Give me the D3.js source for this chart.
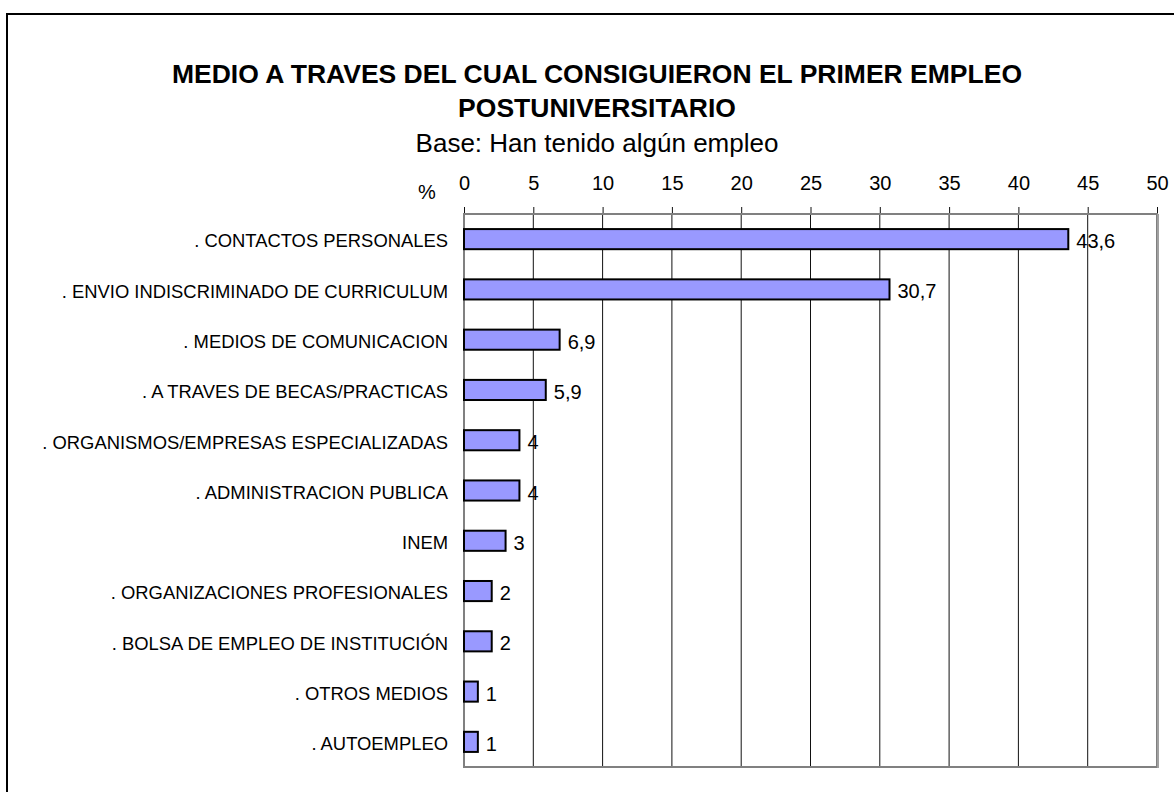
<!DOCTYPE html>
<html>
<head>
<meta charset="utf-8">
<script src="https://cdn.jsdelivr.net/npm/d3@7"></script>
<style>
  body { margin: 0; background: #fff; }
  svg { display: block; font-family: "Liberation Sans", Arial, sans-serif; }
</style>
</head>
<body>
<svg id="chart" width="1174" height="792"></svg>
<script>
var categories = [
    '. CONTACTOS PERSONALES',
    '. ENVIO INDISCRIMINADO DE CURRICULUM',
    '. MEDIOS DE COMUNICACION',
    '. A TRAVES DE BECAS/PRACTICAS',
    '. ORGANISMOS/EMPRESAS ESPECIALIZADAS',
    '. ADMINISTRACION PUBLICA',
    'INEM',
    '. ORGANIZACIONES PROFESIONALES',
    '. BOLSA DE EMPLEO DE INSTITUCIÓN',
    '. OTROS MEDIOS',
    '. AUTOEMPLEO'
];
var values = [43.6, 30.7, 6.9, 5.9, 4, 4, 3, 2, 2, 1, 1];
var valueLabels = ['43,6', '30,7', '6,9', '5,9', '4', '4', '3', '2', '2', '1', '1'];
var tickValues = [0, 5, 10, 15, 20, 25, 30, 35, 40, 45, 50];

var titleLines = ['MEDIO A TRAVES DEL CUAL CONSIGUIERON EL PRIMER EMPLEO', 'POSTUNIVERSITARIO'];
var subtitle = 'Base: Han tenido algún empleo';

var svg = d3.select('#chart');
var plotLeft = 464, plotRight = 1157, plotTop = 214, plotBottom = 767;

// outer frame
svg.append('rect')
    .attr('x', 7).attr('y', 14)
    .attr('width', 1200).attr('height', 900)
    .attr('fill', 'none')
    .attr('stroke', '#000')
    .attr('stroke-width', 2);

// titles
svg.selectAll('text.title')
    .data(titleLines)
    .join('text')
    .classed('title', true)
    .attr('x', 597)
    .attr('y', function(d, i) { return 83 + i * 34; })
    .attr('text-anchor', 'middle')
    .attr('font-weight', 'bold')
    .attr('font-size', 26.5)
    .text(function(d) { return d; });

svg.append('text')
    .attr('x', 597).attr('y', 152)
    .attr('text-anchor', 'middle')
    .attr('font-size', 26)
    .text(subtitle);

var x = d3.scaleLinear().domain([0, 50]).range([plotLeft, plotRight]);
var y = d3.scaleBand().domain(categories).range([plotTop, plotBottom]).paddingInner(0.6).paddingOuter(0.3);

// gridlines
svg.append('g')
    .selectAll('line')
    .data(tickValues.slice(1, -1))
    .join('line')
    .attr('x1', function(d) { return x(d); })
    .attr('x2', function(d) { return x(d); })
    .attr('y1', plotTop)
    .attr('y2', plotBottom)
    .attr('stroke', '#111')
    .attr('stroke-width', 1);

// top axis
var axis = d3.axisTop(x)
    .tickValues(tickValues)
    .tickSize(7)
    .tickPadding(17)
    .tickFormat(d3.format('d'));

var gAxis = svg.append('g')
    .attr('transform', 'translate(0,' + plotTop + ')')
    .call(axis);
gAxis.select('.domain').remove();
gAxis.selectAll('.tick line').attr('stroke', '#111');
gAxis.selectAll('.tick text')
    .attr('font-size', 20)
    .attr('font-family', '"Liberation Sans", Arial, sans-serif')
    .attr('fill', '#000');

svg.append('text')
    .attr('x', 427).attr('y', 199)
    .attr('text-anchor', 'middle')
    .attr('font-size', 20)
    .text('%');

// plot frame
svg.append('rect')
    .attr('x', plotLeft).attr('y', plotTop)
    .attr('width', plotRight - plotLeft).attr('height', plotBottom - plotTop)
    .attr('fill', 'none')
    .attr('stroke', '#808080')
    .attr('stroke-width', 2);
svg.append('line')
    .attr('x1', plotRight + 1).attr('x2', plotRight + 1)
    .attr('y1', plotTop).attr('y2', plotBottom + 1)
    .attr('stroke', '#a0a0a0')
    .attr('stroke-width', 2);

// bars
svg.append('g')
    .selectAll('rect')
    .data(values)
    .join('rect')
    .attr('x', x(0))
    .attr('y', function(d, i) { return y(categories[i]); })
    .attr('width', function(d) { return x(d) - x(0); })
    .attr('height', y.bandwidth())
    .attr('fill', '#9999ff')
    .attr('stroke', '#000')
    .attr('stroke-width', 2);

// value labels
svg.append('g')
    .selectAll('text')
    .data(values)
    .join('text')
    .attr('x', function(d) { return x(d) + 8; })
    .attr('y', function(d, i) { return y(categories[i]) + y.bandwidth() / 2; })
    .attr('dy', '0.45em')
    .attr('font-size', 20)
    .text(function(d, i) { return valueLabels[i]; });

// category labels
svg.append('g')
    .selectAll('text')
    .data(categories)
    .join('text')
    .attr('x', 448)
    .attr('y', function(d) { return y(d) + y.bandwidth() / 2; })
    .attr('dy', '0.45em')
    .attr('text-anchor', 'end')
    .attr('font-size', 18.4)
    .text(function(d) { return d; });
</script>
</body>
</html>
